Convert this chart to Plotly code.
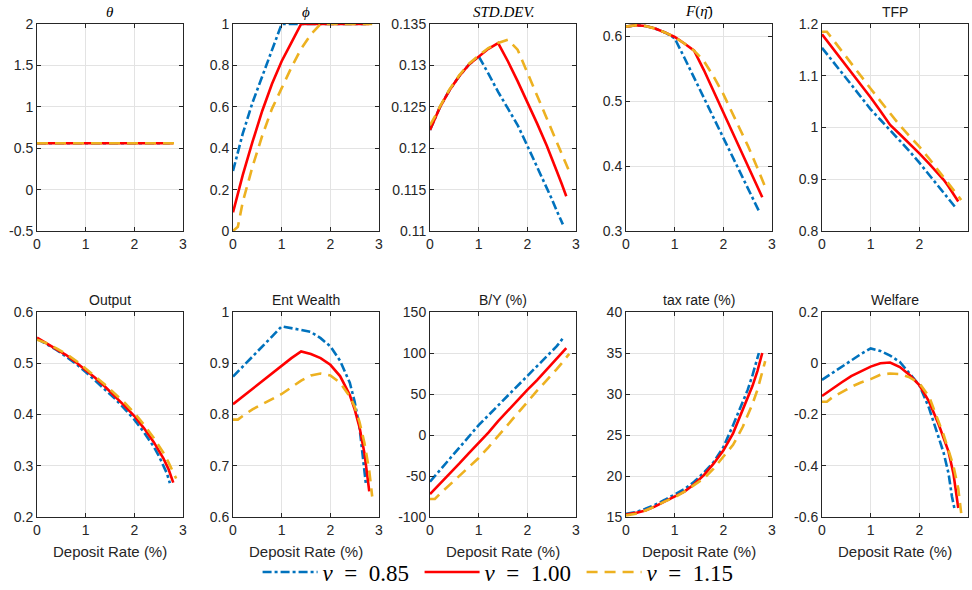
import plotly.graph_objects as go

# ---------------- data ----------------
labels = ["<i>ν</i>\u2002=\u20020.85", "<i>ν</i>\u2002=\u20021.00", "<i>ν</i>\u2002=\u20021.15"]

x085 = [0, 0.2, 0.4, 0.6, 0.8, 1.0, 1.2, 1.4, 1.6, 1.8, 2.0, 2.2, 2.4, 2.5, 2.6, 2.67, 2.73]
x100 = [0, 0.2, 0.4, 0.6, 0.8, 1.0, 1.2, 1.4, 1.6, 1.8, 2.0, 2.2, 2.4, 2.5, 2.6, 2.7, 2.8]
x115 = [0, 0.1, 0.2, 0.4, 0.6, 0.8, 1.0, 1.2, 1.4, 1.6, 1.8, 2.0, 2.2, 2.4, 2.5, 2.6, 2.7, 2.8, 2.86]

theta_085 = [0.56, 0.56, 0.56, 0.56, 0.56, 0.56, 0.56, 0.56, 0.56, 0.56, 0.56, 0.56, 0.56, 0.56, 0.56, 0.56, 0.56]
theta_100 = [0.56, 0.56, 0.56, 0.56, 0.56, 0.56, 0.56, 0.56, 0.56, 0.56, 0.56, 0.56, 0.56, 0.56, 0.56, 0.56, 0.56]
theta_115 = [0.56, 0.56, 0.56, 0.56, 0.56, 0.56, 0.56, 0.56, 0.56, 0.56, 0.56, 0.56, 0.56, 0.56, 0.56, 0.56, 0.56, 0.56, 0.56]

phi_085 = [0.29, 0.47, 0.62, 0.75, 0.88, 1.0, 1.0, 1.0, 1.0, 1.0, 1.0, 1.0, 1.0, 1.0, 1.0, 1.0, 1.0]
phi_100 = [0.09, 0.27, 0.43, 0.58, 0.71, 0.82, 0.91, 1.0, 1.0, 1.0, 1.0, 1.0, 1.0, 1.0, 1.0, 1.0, 1.0]
phi_115 = [0.0, 0.02, 0.14, 0.31, 0.46, 0.59, 0.69, 0.79, 0.88, 0.95, 1.0, 1.0, 1.0, 1.0, 1.0, 1.0, 1.0, 1.0, 1.0]

std_085 = [0.1222, 0.1249, 0.1270, 0.1287, 0.1301, 0.1311, 0.1290, 0.1268, 0.1248, 0.1228, 0.1203,
           0.1178, 0.1152, 0.1139, 0.1125, 0.1116, 0.1108]
std_100 = [0.1222, 0.1249, 0.1270, 0.1287, 0.1301, 0.1311, 0.1320, 0.1327, 0.1305, 0.1281, 0.1256,
           0.1230, 0.1203, 0.1189, 0.1173, 0.1158, 0.1142]
std_115 = [0.1228, 0.1238, 0.1250, 0.1271, 0.1288, 0.1302, 0.1312, 0.1321, 0.1327, 0.1331, 0.1319,
           0.1292, 0.1264, 0.1236, 0.1222, 0.1208, 0.1194, 0.1180, 0.1172]

F_085 = [0.615, 0.617, 0.616, 0.612, 0.606, 0.597, 0.567, 0.536, 0.505, 0.474, 0.445, 0.414, 0.383,
         0.368, 0.352, 0.341, 0.331]
F_100 = [0.615, 0.617, 0.616, 0.612, 0.606, 0.599, 0.589, 0.578, 0.548, 0.515, 0.483, 0.450, 0.417,
         0.401, 0.385, 0.368, 0.352]
F_115 = [0.615, 0.616, 0.617, 0.616, 0.612, 0.606, 0.599, 0.589, 0.578, 0.562, 0.538, 0.511, 0.480,
         0.448, 0.432, 0.415, 0.398, 0.380, 0.368]

tfp_085 = [1.154, 1.131, 1.107, 1.083, 1.059, 1.035, 1.015, 0.995, 0.975, 0.954, 0.932, 0.909, 0.885,
           0.874, 0.862, 0.854, 0.847]
tfp_100 = [1.180, 1.156, 1.131, 1.107, 1.083, 1.058, 1.032, 1.005, 0.987, 0.969, 0.950, 0.930, 0.910,
           0.899, 0.886, 0.872, 0.857]
tfp_115 = [1.185, 1.185, 1.173, 1.148, 1.124, 1.099, 1.075, 1.051, 1.027, 1.004, 0.983, 0.963, 0.940,
           0.916, 0.905, 0.893, 0.880, 0.867, 0.860]

out_085 = [0.548, 0.537, 0.526, 0.513, 0.499, 0.483, 0.466, 0.449, 0.431, 0.411, 0.390, 0.365, 0.337,
           0.320, 0.300, 0.285, 0.266]
out_100 = [0.550, 0.539, 0.528, 0.516, 0.502, 0.487, 0.471, 0.454, 0.436, 0.417, 0.397, 0.373, 0.346,
           0.331, 0.314, 0.294, 0.267]
out_115 = [0.546, 0.543, 0.539, 0.529, 0.518, 0.505, 0.490, 0.474, 0.458, 0.441, 0.423, 0.403, 0.380,
           0.354, 0.340, 0.325, 0.307, 0.287, 0.275]

ew_085 = [0.874, 0.893, 0.912, 0.932, 0.952, 0.972, 0.969, 0.965, 0.961, 0.949, 0.933, 0.905, 0.862,
          0.825, 0.775, 0.720, 0.665]
ew_100 = [0.820, 0.835, 0.850, 0.865, 0.880, 0.895, 0.910, 0.923, 0.918, 0.910, 0.897, 0.875, 0.838,
          0.810, 0.775, 0.725, 0.650]
ew_115 = [0.790, 0.790, 0.797, 0.810, 0.820, 0.830, 0.840, 0.853, 0.866, 0.876, 0.880, 0.876, 0.862,
          0.835, 0.815, 0.785, 0.745, 0.690, 0.640]

by_085 = [-57, -43, -29, -15, -1, 12, 24, 36, 48, 59, 71, 83, 95, 101, 108, 113, 118]
by_100 = [-72, -60, -47, -35, -22, -10, 3, 17, 30, 42, 55, 67, 80, 86, 93, 100, 106]
by_115 = [-78, -78, -72, -61, -50, -39, -28, -15, -1, 13, 27, 40, 54, 67, 73, 80, 87, 95, 99]

tax_085 = [15.4, 15.6, 16.0, 16.5, 17.1, 17.7, 18.4, 19.3, 20.4, 21.7, 23.5, 26.2, 29.0, 30.5, 32.3,
           33.8, 35.0]
tax_100 = [15.3, 15.5, 15.8, 16.3, 16.9, 17.5, 18.1, 19.0, 20.1, 21.5, 23.1, 25.2, 28.0, 29.5, 31.0,
           32.8, 35.0]
tax_115 = [15.2, 15.3, 15.4, 15.8, 16.3, 16.9, 17.4, 18.1, 18.9, 19.7, 20.9, 22.3, 23.8, 26.0, 27.3,
           28.8, 30.5, 32.8, 34.0]

wel_085 = [-0.065, -0.040, -0.015, 0.012, 0.036, 0.058, 0.048, 0.030, 0.005, -0.040, -0.085, -0.175,
           -0.290, -0.350, -0.430, -0.520, -0.575]
wel_100 = [-0.128, -0.100, -0.075, -0.050, -0.030, -0.013, 0.000, 0.003, -0.015, -0.046, -0.085,
           -0.150, -0.240, -0.295, -0.345, -0.430, -0.565]
wel_115 = [-0.150, -0.150, -0.135, -0.112, -0.092, -0.075, -0.062, -0.045, -0.040, -0.042, -0.055,
           -0.078, -0.130, -0.230, -0.280, -0.340, -0.400, -0.490, -0.585]

titles = ["<i>θ</i>", "<i>ϕ</i>", "<i>STD.DEV.</i>", "<i>F</i>(<i>η̄</i>)", "TFP",
          "Output", "Ent Wealth", "B/Y (%)", "tax rate (%)", "Welfare"]
title_serif = [True, True, True, True, False, False, False, False, False, False]

yticks = [
    ["-0.5", "0", "0.5", "1", "1.5", "2"],
    ["0", "0.2", "0.4", "0.6", "0.8", "1"],
    ["0.11", "0.115", "0.12", "0.125", "0.13", "0.135"],
    ["0.3", "0.4", "0.5", "0.6"],
    ["0.8", "0.9", "1", "1.1", "1.2"],
    ["0.2", "0.3", "0.4", "0.5", "0.6"],
    ["0.6", "0.7", "0.8", "0.9", "1"],
    ["-100", "-50", "0", "50", "100", "150"],
    ["15", "20", "25", "30", "35", "40"],
    ["-0.6", "-0.4", "-0.2", "0", "0.2"],
]
yranges = [[-0.5, 2], [0, 1], [0.11, 0.135], [0.3, 0.619], [0.8, 1.2],
           [0.2, 0.6], [0.6, 1], [-100, 150], [15, 40], [-0.6, 0.2]]
xticks = ["0", "1", "2", "3"]
xlabel = "Deposit Rate (%)"

series = [
    (theta_085, theta_100, theta_115),
    (phi_085, phi_100, phi_115),
    (std_085, std_100, std_115),
    (F_085, F_100, F_115),
    (tfp_085, tfp_100, tfp_115),
    (out_085, out_100, out_115),
    (ew_085, ew_100, ew_115),
    (by_085, by_100, by_115),
    (tax_085, tax_100, tax_115),
    (wel_085, wel_100, wel_115),
]
xs = [x085, x100, x115]

# ---------------- style ----------------
colors = ["#0072BD", "#FF0000", "#EDB120"]
dashes = ["9px,3px,3px,3px", "solid", "11px,7px"]
W, H = 972, 590
lefts = [37, 233, 430, 626, 822]
pw = 146
rows = [(24, 231), (312, 517)]
axcol = "#262626"
sans = "Liberation Sans, Arial, sans-serif"
serif = "Liberation Serif, Times New Roman, serif"

fig = go.Figure()
annotations = []
layout = {}
for i in range(10):
    r, c = divmod(i, 5)
    n = i + 1
    xa = "xaxis" if n == 1 else f"xaxis{n}"
    ya = "yaxis" if n == 1 else f"yaxis{n}"
    xref = "x" if n == 1 else f"x{n}"
    yref = "y" if n == 1 else f"y{n}"
    x0, x1 = lefts[c] / W, (lefts[c] + pw) / W
    top, bot = rows[r]
    y0, y1 = 1 - bot / H, 1 - top / H
    common = dict(showline=True, linecolor=axcol, linewidth=1, mirror="ticks",
                  ticks="inside", ticklen=4, tickcolor=axcol, automargin=False,
                  showgrid=True, gridcolor="#e3e3e3", gridwidth=1, zeroline=False,
                  tickfont=dict(family=sans, size=14, color=axcol))
    layout[xa] = dict(domain=[x0, x1], anchor=yref, range=[0, 3],
                      tickvals=[float(t) for t in xticks], ticktext=xticks, **common)
    layout[ya] = dict(domain=[y0, y1], anchor=xref, range=yranges[i],
                      tickvals=[float(t) for t in yticks[i]], ticktext=yticks[i], **common)
    for k in range(3):
        fig.add_trace(go.Scatter(
            x=xs[k], y=series[i][k], mode="lines", xaxis=xref, yaxis=yref,
            line=dict(color=colors[k], width=2.6, dash=dashes[k]),
            name=labels[k], showlegend=(i == 0), legendgroup=str(k)))
    tfont = dict(family=serif if title_serif[i] else sans, size=15 if title_serif[i] else 14,
                 color="#000000" if title_serif[i] else "#1a1a1a")
    annotations.append(dict(text=titles[i], x=(x0 + x1) / 2, y=y1, xref="paper", yref="paper",
                            xanchor="center", yanchor="bottom", yshift=2, showarrow=False,
                            font=tfont))
    if r == 1:
        annotations.append(dict(text=xlabel, x=(x0 + x1) / 2, y=y0, xref="paper", yref="paper",
                                xanchor="center", yanchor="top", yshift=-24, showarrow=False,
                                font=dict(family=sans, size=15, color=axcol)))

fig.update_layout(
    width=W, height=H, margin=dict(l=0, r=0, t=0, b=0, autoexpand=False),
    paper_bgcolor="white", plot_bgcolor="white",
    annotations=annotations,
    legend=dict(orientation="h", x=0.515, xanchor="center", y=1 - 572 / H, yanchor="middle",
                font=dict(family=serif, size=23, color="#000000"), itemwidth=55,
                entrywidth=92, entrywidthmode="pixels",
                bgcolor="rgba(0,0,0,0)", tracegroupgap=0),
    **layout,
)
fig.write_html("out.html", config={"displayModeBar": False},
               post_script="document.body.style.margin='0px';document.body.style.padding='0px';")
